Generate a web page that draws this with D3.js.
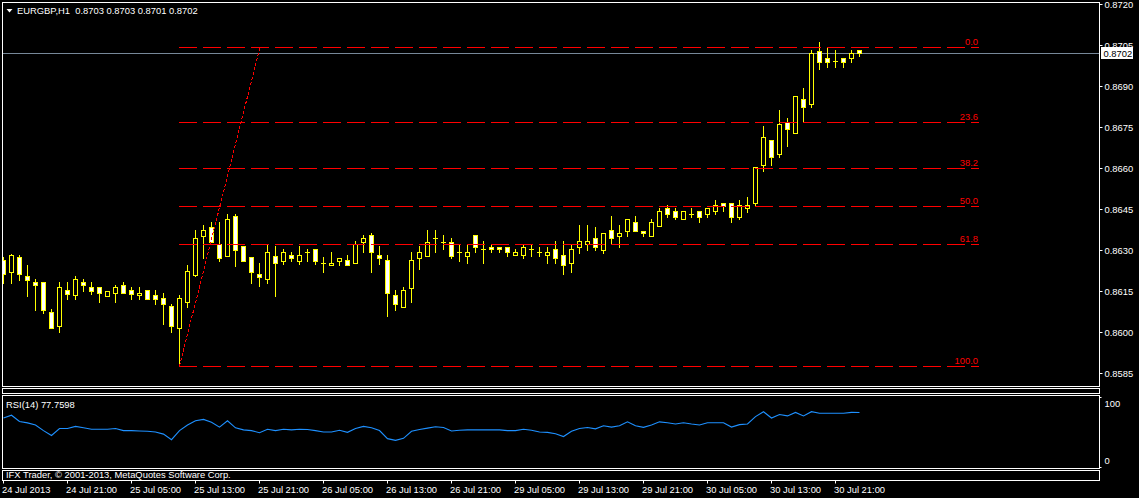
<!DOCTYPE html>
<html><head><meta charset="utf-8">
<script src="https://cdn.jsdelivr.net/npm/d3@7"></script>
<style>
html,body{margin:0;padding:0;background:#000;overflow:hidden}
svg{display:block}
text{font-family:"Liberation Sans",Arial,sans-serif;font-size:9.4px;fill:#fff}
</style>
</head><body><svg id="c" width="1139" height="498"></svg>
<script>
const symbolTitle = "EURGBP,H1";
const ohlcTitle = ["0.8703","0.8703","0.8701","0.8702"];
const rsiTitle = "RSI(14) 77.7598";
const copyrightText = "IFX Trader, \u00a9 2001-2013, MetaQuotes Software Corp.";

const opens = [.86263,.86221,.86273,.86204,.86182,.86182,.86072,.86023,.86153,.86134,
.86182,.86164,.86164,.86133,.86142,.86171,.86153,.86134,.86153,.86134,
.86123,.86094,.86013,.86111,.86209,.86352,.86383,.86321,.86279,.86424,
.86315,.86273,.86211,.86193,.86279,.86261,.86281,.86261,.86292,.86303,
.86251,.86244,.86261,.86262,.86251,.86330,.86355,.86282,.86262,.86134,
.86093,.86162,.86272,.86279,.86343,.86330,.86330,.86292,.86279,.86354,
.86303,.86312,.86312,.86312,.86282,.86282,.86303,.86292,.86282,.86303,
.86281,.86251,.86312,.86322,.86343,.86300,.86373,.86352,.86371,.86401,
.86371,.86352,.86389,.86453,.86443,.86412,.86432,.86443,.86431,.86443,
.86471,.86471,.86422,.86453,.86471,.86612,.86701,.86650,.86769,.86729,
.86851,.86833,.87029,.87001,.86990,.87001,.87001,.87030];
const highs = [.86274,.86285,.86282,.86245,.86194,.86182,.86083,.86184,.86184,.86205,
.86194,.86184,.86164,.86151,.86172,.86182,.86164,.86164,.86153,.86153,
.86142,.86102,.86135,.86245,.86373,.86391,.86401,.86401,.86431,.86431,
.86315,.86273,.86251,.86318,.86315,.86303,.86292,.86315,.86303,.86303,
.86273,.86292,.86272,.86281,.86333,.86355,.86361,.86315,.86282,.86154,
.86164,.86292,.86315,.86373,.86373,.86355,.86343,.86322,.86322,.86354,
.86333,.86322,.86312,.86312,.86303,.86322,.86322,.86312,.86312,.86333,
.86333,.86322,.86391,.86391,.86383,.86361,.86424,.86391,.86412,.86424,
.86371,.86412,.86453,.86465,.86453,.86443,.86453,.86443,.86453,.86483,
.86471,.86471,.86483,.86495,.86605,.86754,.86701,.86812,.86782,.86862,
.86892,.87032,.87060,.87038,.87032,.87001,.87032,.87030];
const lows = [.86180,.86180,.86190,.86133,.86080,.86071,.86014,.86001,.86121,.86122,
.86150,.86140,.86111,.86133,.86111,.86142,.86121,.86121,.86122,.86101,
.86030,.86001,.85876,.86093,.86205,.86270,.86330,.86260,.86279,.86243,
.86261,.86180,.86169,.86180,.86133,.86249,.86261,.86249,.86261,.86249,
.86221,.86244,.86244,.86244,.86251,.86292,.86221,.86249,.86059,.86080,
.86093,.86111,.86231,.86279,.86292,.86303,.86272,.86261,.86251,.86292,
.86251,.86292,.86292,.86279,.86282,.86272,.86279,.86279,.86251,.86251,
.86211,.86221,.86290,.86300,.86300,.86290,.86322,.86312,.86352,.86371,
.86352,.86352,.86389,.86422,.86412,.86412,.86422,.86401,.86422,.86431,
.86443,.86401,.86412,.86440,.86461,.86590,.86612,.86641,.86682,.86729,
.86769,.86822,.86961,.86971,.86971,.86971,.86989,.87010];
const closes = [.86211,.86282,.86211,.86191,.86171,.86080,.86014,.86164,.86140,.86193,
.86171,.86151,.86142,.86151,.86164,.86142,.86140,.86142,.86122,.86122,
.86101,.86023,.86123,.86222,.86343,.86373,.86330,.86272,.86412,.86300,
.86261,.86221,.86202,.86292,.86251,.86292,.86272,.86281,.86292,.86261,
.86251,.86251,.86272,.86244,.86322,.86343,.86292,.86272,.86142,.86101,
.86153,.86262,.86292,.86330,.86343,.86330,.86279,.86292,.86292,.86312,
.86303,.86303,.86303,.86292,.86292,.86312,.86303,.86292,.86292,.86272,
.86244,.86303,.86333,.86333,.86312,.86361,.86343,.86361,.86412,.86371,
.86361,.86401,.86443,.86431,.86422,.86443,.86432,.86422,.86453,.86465,
.86462,.86422,.86465,.86465,.86603,.86712,.86641,.86760,.86742,.86862,
.86822,.87020,.86989,.86989,.86990,.86989,.87020,.87020];
const rsiValues = [70,74,65,63,60,52,45,55,55,58,
56,54,54,54,55,52,52,51.5,51,50,
47,39,52,60,66,68,64,57,66,56,
53,52,49,54,52,54,53,54,53.5,52,
50,50,52.5,49.5,55,58,56,52,40.5,38,
41,51,53.5,55.5,57.5,56.5,51.5,52.5,53,53,
53,53,53,52,52,54,52.5,50,49.5,47.5,
43.5,51,55,56.5,54.5,59,57,59,64.5,59,
56.7,60,64.5,63.3,61.4,63.3,61.4,60,63.3,63.3,
63.3,57,60.5,61.4,72,79,70,75,73,78,
73,79,76.7,76.7,76.7,76.7,78,77.76];

const timeLabels = ["24 Jul 2013","24 Jul 21:00","25 Jul 05:00","25 Jul 13:00","25 Jul 21:00","26 Jul 05:00","26 Jul 13:00","26 Jul 21:00","29 Jul 05:00","29 Jul 13:00","29 Jul 21:00","30 Jul 05:00","30 Jul 13:00","30 Jul 21:00"];
const timeLabelBars = [0,8,16,24,32,40,48,56,64,72,80,88,96,104];
const priceTicks = [0.8720,0.8705,0.8690,0.8675,0.8660,0.8645,0.8630,0.8615,0.8600,0.8585];
const rsiTicks = [100,0];
const fibLevels = [0,23.6,38.2,50,61.8,100];
const fibLabels = ["0.0","23.6","38.2","50.0","61.8","100.0"];
const fibHighPrice = 0.870425, fibLowPrice = 0.858754;
const fibStartBar = 22, fibTopBar = 32, fibEndBar = 122;
const bidPrice = 0.8702;

const FONT = '"Liberation Sans",Arial,sans-serif';
const FS = "9.4px";
const svg = d3.select("#c");
const x = d3.scaleLinear().domain([0,1]).range([3,11]);
const y = d3.scaleLinear().domain([0.8585,0.8720]).range([373,4]);
const r = d3.scaleLinear().domain([0,100]).range([467,397]);
const px = v => Math.round(v)+0.5;
const WHITE="#ffffff", YEL="#ffff00", RED="#ff0000";

svg.append("rect").attr("width",1139).attr("height",498).attr("fill","#000");

const defs = svg.append("defs");
defs.append("clipPath").attr("id","mainClip").append("rect").attr("x",3).attr("y",3).attr("width",1096).attr("height",383);
defs.append("clipPath").attr("id","rsiClip").append("rect").attr("x",3).attr("y",396).attr("width",1096).attr("height",72);
defs.append("clipPath").attr("id","cpClip").append("rect").attr("x",3).attr("y",471).attr("width",1096).attr("height",9);

const main = svg.append("g").attr("clip-path","url(#mainClip)");

// bid line
const yb = px(y(bidPrice));
main.append("line").attr("x1",2).attr("x2",1099).attr("y1",yb).attr("y2",yb).attr("stroke","#778899").attr("stroke-width",1);

// candles
const bars = d3.range(opens.length).map(i=>({i,o:opens[i],h:highs[i],l:lows[i],c:closes[i]}));
const cg = main.append("g").attr("shape-rendering","crispEdges");
bars.forEach(b=>{
  const cx = x(b.i)+0.5;
  const yh = Math.round(y(b.h)), yl = Math.round(y(b.l));
  const yo = Math.round(y(b.o)), yc = Math.round(y(b.c));
  cg.append("line").attr("x1",cx).attr("x2",cx).attr("y1",yh).attr("y2",yl+1).attr("stroke",YEL);
  if (yo===yc) {
    cg.append("line").attr("x1",cx-2.5).attr("x2",cx+2.5).attr("y1",yo+0.5).attr("y2",yo+0.5).attr("stroke",YEL);
  } else {
    const top=Math.min(yo,yc), bot=Math.max(yo,yc);
    cg.append("rect").attr("x",cx-2).attr("y",top+0.5).attr("width",4).attr("height",bot-top)
      .attr("fill", b.c>b.o ? "#000" : WHITE).attr("stroke",YEL).attr("stroke-width",1);
  }
});

// fibonacci
const fibPrice = l => fibHighPrice - (fibHighPrice-fibLowPrice)*l/100;
const fg = main.append("g");
fibLevels.forEach((l,k)=>{
  const yy = Math.floor(y(fibPrice(l)))+0.5;
  fg.append("line").attr("x1",x(fibStartBar)).attr("x2",x(fibEndBar)).attr("y1",yy).attr("y2",yy)
    .attr("stroke",RED).attr("stroke-width",1).attr("stroke-dasharray","18,6").attr("shape-rendering","crispEdges");
  fg.append("text").attr("x",x(fibEndBar)-1).attr("y",yy-2.5).attr("text-anchor","end").style("fill",RED).text(fibLabels[k]);
});
fg.append("line").attr("x1",x(fibStartBar)+0.5).attr("y1",y(fibLowPrice)).attr("x2",x(fibTopBar)+1).attr("y2",y(fibHighPrice))
  .attr("stroke",RED).attr("stroke-width",1).attr("stroke-dasharray","3,2").attr("shape-rendering","crispEdges");

// RSI
const rg = svg.append("g").attr("clip-path","url(#rsiClip)");
rg.append("path").datum(rsiValues).attr("fill","none").attr("stroke","#1e90ff").attr("stroke-width",1.1)
  .attr("d", d3.line().x((d,i)=>x(i)+0.5).y(d=>r(d)));

// frames
const frames = [[2,2,1097,384],[2,388,1097,5],[2,395,1097,73],[2,470,1097,10]];
svg.append("g").attr("shape-rendering","crispEdges").selectAll("rect").data(frames).join("rect")
  .attr("x",d=>d[0]+0.5).attr("y",d=>d[1]+0.5).attr("width",d=>d[2]).attr("height",d=>d[3])
  .attr("fill","none").attr("stroke",WHITE).attr("stroke-width",1);

// price axis
const pa = svg.append("g").attr("transform","translate(1099.5,0)")
  .call(d3.axisRight(y).tickValues(priceTicks).tickFormat(d3.format(".4f")).tickSize(3).tickPadding(2));
pa.select(".domain").remove();
pa.selectAll("line").attr("stroke",WHITE);
pa.selectAll("text").style("fill",WHITE).style("font-family",FONT).style("font-size",FS);

// bid price label
svg.append("rect").attr("x",1101).attr("y",yb-6.5).attr("width",32).attr("height",12).attr("fill",WHITE);
svg.append("text").attr("x",1103.5).attr("y",yb+3.5).style("fill","#000").text(d3.format(".4f")(bidPrice));

// RSI axis
const ra = svg.append("g").attr("transform","translate(1099.5,0)")
  .call(d3.axisRight(r).tickValues(rsiTicks).tickFormat(d3.format("d")).tickSize(2).tickPadding(3));
ra.select(".domain").remove();
ra.selectAll("line").attr("stroke",WHITE);
ra.selectAll("text").style("fill",WHITE).style("font-family",FONT).style("font-size",FS)
  .attr("dy",d=>d===100?"1.0em":"-0.35em");

// time axis
const ta = svg.append("g").attr("transform","translate(0,480.5)")
  .call(d3.axisBottom(x).tickValues(timeLabelBars).tickFormat((d,i)=>timeLabels[i]).tickSize(3).tickPadding(3));
ta.select(".domain").remove();
ta.selectAll("line").attr("stroke",WHITE);
ta.selectAll("text").style("fill",WHITE).style("font-family",FONT).style("font-size",FS)
  .attr("text-anchor","start").attr("x",-1.5);

// header
svg.append("path").attr("d","M6.5,9 L12.5,9 L9.5,12.5 Z").attr("fill",WHITE);
svg.append("text").attr("x",17).attr("y",14).style("white-space","pre")
  .text(symbolTitle + "  " + ohlcTitle.join(" "));

// RSI title
svg.append("text").attr("x",6).attr("y",408).text(rsiTitle);

// copyright
svg.append("g").attr("clip-path","url(#cpClip)").append("text").attr("x",6).attr("y",477.5).text(copyrightText);
</script>
</body></html>
